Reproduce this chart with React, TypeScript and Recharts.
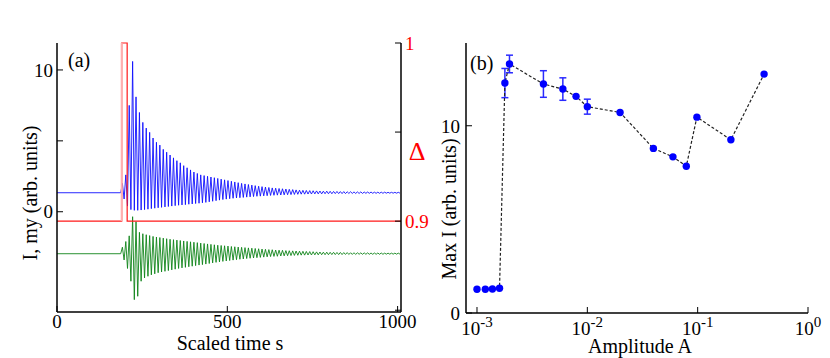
import React from 'react';
import {
  ComposedChart, Line, XAxis, YAxis, ErrorBar,
} from 'recharts';

const FONT = "'Liberation Serif', 'DejaVu Serif', serif";

// ---- panel (a): time traces ----
const baseI = 1.34;
const baseMy = -2.96;
const cycleStart = 192; // first oscillation peak
const cyclePeriod = 10;

// envelope read per cycle: peaks / troughs of I (blue)
const iPeaks = [
  2.0, 2.6, 7.5, 10.6, 8.1, 7.0, 6.3, 5.9, 5.6, 5.2,
  4.9, 4.7, 4.4, 4.2, 4.0, 3.8, 3.6, 3.45, 3.25, 3.1,
  2.95, 2.8, 2.7, 2.6, 2.55, 2.5, 2.45, 2.4, 2.35, 2.3,
  2.25, 2.2, 2.15, 2.1, 2.05, 2.0, 1.96, 1.92, 1.88, 1.84,
  1.8, 1.77, 1.74, 1.71, 1.68, 1.66, 1.64, 1.62, 1.6, 1.58,
  1.56, 1.54, 1.52, 1.51, 1.5, 1.49, 1.48, 1.47, 1.46, 1.45,
  1.45, 1.44, 1.43, 1.43, 1.42, 1.42, 1.41, 1.41, 1.4, 1.4,
  1.4, 1.39, 1.39, 1.39, 1.38, 1.38, 1.38, 1.38, 1.37, 1.37,
  1.37, 1.37,
];
const iTroughs = [
  0.9, 0.4, 0.15, 0.1, 0.1, 0.12, 0.15, 0.18, 0.22, 0.25,
  0.28, 0.31, 0.34, 0.37, 0.4, 0.43, 0.46, 0.48, 0.5, 0.53,
  0.55, 0.58, 0.6, 0.63, 0.66, 0.7, 0.74, 0.78, 0.82, 0.86,
  0.89, 0.92, 0.95, 0.97, 0.99, 1.01, 1.03, 1.05, 1.07, 1.09,
  1.1, 1.12, 1.13, 1.15, 1.16, 1.17, 1.18, 1.19, 1.2, 1.21,
  1.22, 1.23, 1.24, 1.24, 1.25, 1.25, 1.26, 1.26, 1.26, 1.27,
  1.27, 1.27, 1.28, 1.28, 1.28, 1.28, 1.29, 1.29, 1.29, 1.29,
  1.29, 1.3, 1.3, 1.3, 1.3, 1.3, 1.3, 1.31, 1.31, 1.31,
  1.31, 1.31,
];
// my (green)
const myPeaks = [
  -2.5, -2.1, -1.7, -0.35, -0.7, -1.45, -1.55, -1.62, -1.68, -1.74,
  -1.78, -1.82, -1.86, -1.9, -1.94, -1.97, -2.0, -2.03, -2.06, -2.09,
  -2.12, -2.15, -2.18, -2.21, -2.24, -2.27, -2.3, -2.33, -2.36, -2.38,
  -2.4, -2.42, -2.45, -2.47, -2.49, -2.51, -2.53, -2.55, -2.57, -2.59,
  -2.61, -2.63, -2.65, -2.67, -2.68, -2.7, -2.71, -2.72, -2.74, -2.75,
  -2.76, -2.77, -2.78, -2.79, -2.8, -2.81, -2.82, -2.83, -2.84, -2.85,
  -2.85, -2.86, -2.86, -2.87, -2.87, -2.88, -2.88, -2.89, -2.89, -2.89,
  -2.9, -2.9, -2.9, -2.91, -2.91, -2.91, -2.91, -2.92, -2.92, -2.92,
  -2.92, -2.92,
];
const myTroughs = [
  -3.4, -4.0, -4.9, -6.2, -5.96, -4.9, -4.67, -4.55, -4.45, -4.38,
  -4.3, -4.25, -4.2, -4.15, -4.1, -4.05, -4.0, -3.96, -3.92, -3.88,
  -3.84, -3.8, -3.76, -3.73, -3.69, -3.65, -3.61, -3.57, -3.54, -3.5,
  -3.47, -3.44, -3.41, -3.38, -3.35, -3.33, -3.3, -3.28, -3.26, -3.24,
  -3.22, -3.2, -3.18, -3.16, -3.15, -3.14, -3.12, -3.11, -3.1, -3.09,
  -3.08, -3.07, -3.06, -3.06, -3.05, -3.05, -3.04, -3.04, -3.03, -3.03,
  -3.03, -3.02, -3.02, -3.02, -3.02, -3.01, -3.01, -3.01, -3.01, -3.0,
  -3.0, -3.0, -3.0, -3.0, -3.0, -3.0, -3.0, -2.99, -2.99, -2.99,
  -2.99, -2.99,
];

// Delta step (right axis); the rising edge is drawn pale in the original
const deltaT = [0, 190, 190, 206, 206, 1010];
const deltaV = [0.9, 0.9, 1.0, 1.0, 0.9, 0.9];

const buildTrace = (base: number, peaks: number[], troughs: number[]) => {
  const out = [{ t: 0, v: base }, { t: cycleStart - 5, v: base }];
  peaks.forEach((p, i) => {
    const t = cycleStart + i * cyclePeriod;
    out.push({ t, v: p });
    out.push({ t: t + cyclePeriod / 2, v: troughs[i] });
  });
  return out;
};

const iTrace = buildTrace(baseI, iPeaks, iTroughs);
const myTrace = buildTrace(baseMy, myPeaks, myTroughs);
const deltaTrace = deltaT.map((t, i) => ({ t, v: deltaV[i] }));
const deltaEdge = deltaTrace.slice(1, 3);

// ---- panel (b): max I vs amplitude ----
const amplitude = [
  0.001, 0.00119, 0.00138, 0.0016, 0.00179, 0.00197, 0.004, 0.006, 0.0079,
  0.01, 0.0198, 0.0397, 0.0597, 0.0789, 0.0984, 0.2, 0.4,
];
const maxI = [
  1.27, 1.27, 1.28, 1.32, 12.28, 13.3, 12.23, 11.96, 11.57,
  11.02, 10.71, 8.79, 8.34, 7.84, 10.46, 9.25, 12.76,
];
const maxIErr = [
  0, 0, 0, 0, 0.78, 0.47, 0.71, 0.6, 0,
  0.4, 0, 0, 0, 0, 0, 0, 0,
];
const ampData = amplitude.map((a, i) => ({ a, m: maxI[i], e: maxIErr[i] }));

const tickStyle = { fill: '#000', fontSize: 19, fontFamily: FONT };
const frame = { stroke: '#000', strokeWidth: 1.5 };

const LogTick = (props: any) => {
  const { x, y, payload } = props;
  const exp = Math.round(Math.log10(payload.value));
  return (
    <text x={x} y={y + 22} textAnchor="middle" style={{ fontFamily: FONT }} fontSize={19} fill="#000">
      10<tspan dy={-8} fontSize={15}>{exp}</tspan>
    </text>
  );
};

export default function App() {
  return (
    <div style={{ position: 'absolute', left: 0, top: 0, width: 830, height: 358, background: '#fff', fontFamily: FONT }}>
      <div style={{ position: 'absolute', left: 0, top: 0 }}>
        <ComposedChart width={440} height={358} margin={{ top: 43, right: 0, bottom: 0, left: 0 }}>
          <XAxis
            type="number" dataKey="t" domain={[0, 1010]} ticks={[0, 500, 1000]}
            height={46} tickSize={-6} tickMargin={9} tick={tickStyle}
            axisLine={frame} tickLine={{ stroke: '#000' }}
          />
          <XAxis
            xAxisId="top" orientation="top" type="number" domain={[0, 1010]}
            height={0} tick={false} tickLine={false} axisLine={frame}
          />
          <YAxis
            yAxisId="l" type="number" domain={[-7.07, 11.9]} ticks={[0, 5, 10]}
            allowDataOverflow width={57} tickSize={-6} tickMargin={10}
            tickFormatter={(v: number) => (v === 5 ? '' : String(v))}
            tick={tickStyle} axisLine={frame} tickLine={{ stroke: '#000' }}
          />
          <YAxis
            yAxisId="r" orientation="right" type="number" domain={[0.849, 1.0]}
            ticks={[0.85, 0.9, 0.95, 1]} width={39} tickSize={-6} tickMargin={10}
            tickFormatter={(v: number) => (v === 1 ? '1' : v === 0.9 ? '0.9' : '')}
            tick={{ ...tickStyle, fill: '#ff0000' }} axisLine={frame} tickLine={{ stroke: '#000' }}
          />
          <Line
            yAxisId="l" data={iTrace} dataKey="v" stroke="#1010ff" strokeWidth={0.9}
            dot={false} activeDot={false} isAnimationActive={false}
          />
          <Line
            yAxisId="l" data={myTrace} dataKey="v" stroke="#10851a" strokeWidth={0.9}
            dot={false} activeDot={false} isAnimationActive={false}
          />
          <Line
            yAxisId="r" data={deltaTrace} dataKey="v" stroke="#ff1a1a" strokeWidth={1.2}
            dot={false} activeDot={false} isAnimationActive={false}
          />
          <Line
            yAxisId="r" data={deltaEdge} dataKey="v" stroke="#ffb0b0" strokeWidth={2}
            dot={false} activeDot={false} isAnimationActive={false}
          />
        </ComposedChart>
      </div>

      <div style={{ position: 'absolute', left: 410, top: 0 }}>
        <ComposedChart width={420} height={358} data={ampData} margin={{ top: 43, right: 22, bottom: 0, left: 0 }}>
          <XAxis
            type="number" dataKey="a" scale="log" domain={[0.000795, 1]} allowDataOverflow
            ticks={[0.001, 0.01, 0.1, 1]} height={45} tickSize={-6} tickMargin={6}
            tick={<LogTick />} axisLine={frame} tickLine={{ stroke: '#000' }}
          />
          <XAxis
            xAxisId="top" orientation="top" type="number" domain={[0, 1]}
            height={0} tick={false} tickLine={false} axisLine={frame}
          />
          <YAxis
            type="number" domain={[0, 14.42]} ticks={[0, 10]} allowDataOverflow
            width={56} tickSize={-6} tickMargin={12}
            tick={tickStyle} axisLine={frame} tickLine={{ stroke: '#000' }}
          />
          <YAxis
            yAxisId="rr" orientation="right" type="number" domain={[0, 1]}
            width={0} tick={false} tickLine={false} axisLine={frame}
          />
          <Line
            dataKey="m" stroke="#222" strokeWidth={1.2} strokeDasharray="3 2"
            dot={{ r: 3.7, fill: '#0000ff', stroke: '#0000ff', strokeWidth: 0 }}
            activeDot={false} isAnimationActive={false}
          >
            <ErrorBar dataKey="e" direction="y" width={3.5} stroke="#2a2aff" strokeWidth={1.5} />
          </Line>
        </ComposedChart>
      </div>

      <svg width={830} height={358} style={{ position: 'absolute', left: 0, top: 0, pointerEvents: 'none', fontFamily: FONT }}>
        <g fontSize={20} fill="#000">
          <text x={68} y={67}>(a)</text>
          <text x={470} y={70}>(b)</text>
          <text x={230} y={350} textAnchor="middle">Scaled time s</text>
          <text x={640} y={353} textAnchor="middle">Amplitude A</text>
          <text transform="translate(37,193) rotate(-90)" textAnchor="middle">I, my (arb. units)</text>
          <text transform="translate(456,209) rotate(-90)" textAnchor="middle">Max I (arb. units)</text>
          <text x={417} y={160} textAnchor="middle" fontSize={26} fill="#ff0000">Δ</text>
        </g>
      </svg>
    </div>
  );
}
